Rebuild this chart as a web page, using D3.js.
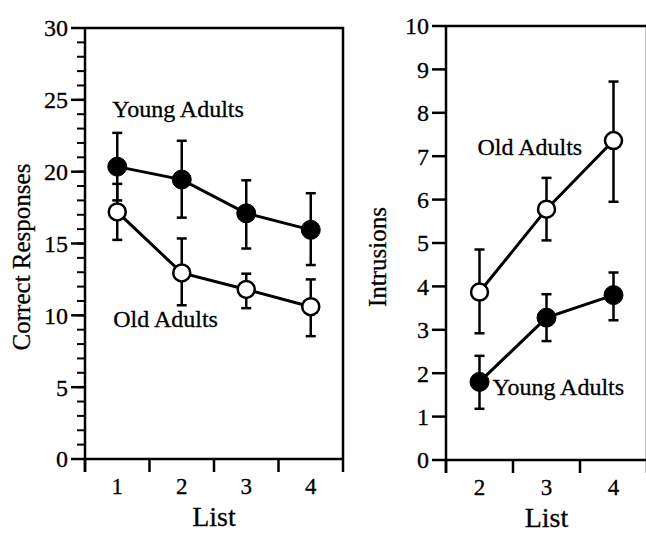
<!DOCTYPE html>
<html>
<head>
<meta charset="utf-8">
<script src="https://cdn.jsdelivr.net/npm/d3@7"></script>
<style>
  html, body { margin: 0; padding: 0; background: #fff; }
  svg { display: block; }
  text { font-family: "Liberation Serif", "Times New Roman", serif; fill: #000; stroke: #000; stroke-width: 0.3; }
</style>
</head>
<body>
<svg id="chart" width="646" height="535"></svg>
<script>
// ---- Data ----
// Left panel: Correct Responses by List
const listsLeft = ["1", "2", "3", "4"];
const youngCorrect   = [20.35, 19.45, 17.1, 15.95];
const youngCorrectHi = [22.7, 22.15, 19.4, 18.5];
const youngCorrectLo = [18.0, 16.8, 14.65, 13.5];
const oldCorrect     = [17.2, 12.95, 11.8, 10.6];
const oldCorrectHi   = [19.15, 15.35, 12.9, 12.5];
const oldCorrectLo   = [15.25, 10.7, 10.5, 8.55];
const leftMajorTicks = [0, 5, 10, 15, 20, 25, 30];
const leftMinorTicks = d3.range(0, 31, 1);

// Right panel: Intrusions by List
const listsRight = ["2", "3", "4"];
const oldIntr     = [3.87, 5.78, 7.36];
const oldIntrHi   = [4.85, 6.5, 8.72];
const oldIntrLo   = [2.92, 5.06, 5.95];
const youngIntr   = [1.8, 3.28, 3.8];
const youngIntrHi = [2.4, 3.82, 4.32];
const youngIntrLo = [1.18, 2.74, 3.22];
const rightMajorTicks = [0, 1, 2, 3, 4, 5, 6, 7, 8, 9, 10];

const svg = d3.select("#chart");

function panel(opts) {
  const g = svg.append("g");
  const x = d3.scaleBand().domain(opts.lists).range([opts.x0, opts.x1]).padding(0);
  const y = d3.scaleLinear().domain(opts.yDomain).range([opts.y0, opts.y1]);
  const boundaries = opts.lists.map(d => x(d)).concat([opts.x1]);

  // frame (top & right)
  g.append("path")
    .attr("d", `M${opts.x0},${opts.y1}H${opts.x1}V${opts.y0}`)
    .attr("fill", "none").attr("stroke", "#000").attr("stroke-width", 2.5);

  // x axis
  g.append("line").attr("x1", opts.x0).attr("x2", opts.x1)
    .attr("y1", opts.y0).attr("y2", opts.y0)
    .attr("stroke", "#000").attr("stroke-width", 2.5);
  g.selectAll(".xt").data(boundaries).enter().append("line")
    .attr("x1", d => d).attr("x2", d => d)
    .attr("y1", opts.y0).attr("y2", opts.y0 + 13)
    .attr("stroke", "#000").attr("stroke-width", 2.5);
  g.selectAll(".xl").data(opts.lists).enter().append("text")
    .attr("x", d => x(d) + x.bandwidth() / 2)
    .attr("y", opts.y0 + 35)
    .attr("text-anchor", "middle")
    .attr("font-size", 23)
    .text(d => d);
  g.append("text")
    .attr("x", (opts.x0 + opts.x1) / 2)
    .attr("y", opts.listY)
    .attr("text-anchor", "middle")
    .attr("font-size", 28)
    .text("List");

  // y axis
  g.append("line").attr("x1", opts.x0).attr("x2", opts.x0)
    .attr("y1", opts.y1).attr("y2", opts.y0 + 13)
    .attr("stroke", "#000").attr("stroke-width", 2.5);
  if (opts.minor) {
    g.selectAll(".ymin").data(opts.minor).enter().append("line")
      .attr("x1", opts.x0 - 8).attr("x2", opts.x0)
      .attr("y1", d => y(d)).attr("y2", d => y(d))
      .attr("stroke", "#000").attr("stroke-width", 2);
  }
  g.selectAll(".ymaj").data(opts.major).enter().append("line")
    .attr("x1", opts.x0 - 14).attr("x2", opts.x0)
    .attr("y1", d => y(d)).attr("y2", d => y(d))
    .attr("stroke", "#000").attr("stroke-width", 2.5);
  g.selectAll(".yl").data(opts.major).enter().append("text")
    .attr("x", opts.x0 - 17)
    .attr("y", d => y(d))
    .attr("dy", "0.35em")
    .attr("text-anchor", "end")
    .attr("font-size", 24)
    .text(d => d);
  g.append("text")
    .attr("transform", `translate(${opts.ylabX},${opts.ylabY}) rotate(-90)`)
    .attr("text-anchor", "middle")
    .attr("font-size", 25)
    .text(opts.ylabel);

  // series
  const cx = d => x(d) + x.bandwidth() / 2;
  opts.series.forEach(s => {
    const pts = opts.lists.map((l, i) => ({ l, v: s.v[i], hi: s.hi[i], lo: s.lo[i] }));
    g.append("path")
      .datum(pts)
      .attr("d", d3.line().x(d => cx(d.l)).y(d => y(d.v)))
      .attr("fill", "none").attr("stroke", "#000").attr("stroke-width", 3);
    const eb = g.append("g");
    pts.forEach(p => {
      eb.append("line").attr("x1", cx(p.l)).attr("x2", cx(p.l))
        .attr("y1", y(p.hi)).attr("y2", y(p.lo))
        .attr("stroke", "#000").attr("stroke-width", 2.5);
      [p.hi, p.lo].forEach(e => {
        eb.append("line").attr("x1", cx(p.l) - 5).attr("x2", cx(p.l) + 5)
          .attr("y1", y(e)).attr("y2", y(e))
          .attr("stroke", "#000").attr("stroke-width", 2.5);
      });
    });
  });
  opts.series.forEach(s => {
    g.selectAll(null).data(opts.lists.map((l, i) => ({ l, v: s.v[i] }))).enter()
      .append("circle")
      .attr("cx", d => cx(d.l)).attr("cy", d => y(d.v))
      .attr("r", s.filled ? 9.5 : 8.5)
      .attr("fill", s.filled ? "#000" : "#fff")
      .attr("stroke", "#000").attr("stroke-width", s.filled ? 1 : 2.5);
  });
  opts.labels.forEach(lb => {
    g.append("text")
      .attr("x", cx(lb.list) + lb.dx)
      .attr("y", y(lb.v))
      .attr("font-size", 24)
      .text(lb.text);
  });
}

panel({
  lists: listsLeft, x0: 85, x1: 343, y0: 459, y1: 28, yDomain: [0, 30],
  major: leftMajorTicks, minor: leftMinorTicks,
  ylabel: "Correct Responses", ylabX: 30, ylabY: 257, listY: 526,
  series: [
    { v: youngCorrect, hi: youngCorrectHi, lo: youngCorrectLo, filled: true },
    { v: oldCorrect, hi: oldCorrectHi, lo: oldCorrectLo, filled: false }
  ],
  labels: [
    { text: "Young Adults", list: "1", dx: -5, v: 23.8 },
    { text: "Old Adults", list: "1", dx: -4, v: 9.2 }
  ]
});

panel({
  lists: listsRight, x0: 446, x1: 647, y0: 460, y1: 26, yDomain: [0, 10],
  major: rightMajorTicks, minor: null,
  ylabel: "Intrusions", ylabX: 386, ylabY: 257, listY: 527,
  series: [
    { v: oldIntr, hi: oldIntrHi, lo: oldIntrLo, filled: false },
    { v: youngIntr, hi: youngIntrHi, lo: youngIntrLo, filled: true }
  ],
  labels: [
    { text: "Old Adults", list: "2", dx: -2, v: 7.03 },
    { text: "Young Adults", list: "2", dx: 13, v: 1.5 }
  ]
});
</script>
</body>
</html>
